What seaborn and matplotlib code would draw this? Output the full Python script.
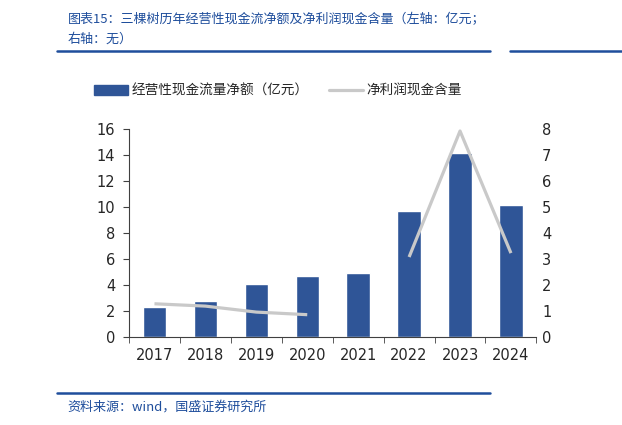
import numpy as np
import pandas as pd
import matplotlib
matplotlib.use("Agg")
import matplotlib.pyplot as plt
from matplotlib.lines import Line2D
from matplotlib.patches import Patch
import seaborn as sns

# podaci
years = ["2017", "2018", "2019", "2020", "2021", "2022", "2023", "2024"]
cash_flow = [2.31, 2.78, 4.09, 4.70, 4.94, 9.74, 14.17, 10.18]   # 亿元
cash_ratio = [1.28, 1.19, 0.96, 0.86, np.nan, 3.08, 7.93, 3.23]  # 无

bar_label = "经营性现金流量净额（亿元）"
line_label = "净利润现金含量"
title_line1 = "图表15：三棵树历年经营性现金流净额及净利润现金含量（左轴：亿元；"
title_line2 = "右轴：无）"
source_text = "资料来源：wind，国盛证券研究所"

sns.set_style("white")
plt.rcParams["font.family"] = ["Noto Sans CJK SC", "DejaVu Sans"]

BLUE = "#2f5597"
RULE = "#1f4e9c"
GRAY = "#c9c9c9"

df = pd.DataFrame({"year": years, "cash": cash_flow, "ratio": cash_ratio})

fig = plt.figure(figsize=(6.22, 4.25), dpi=100)
ax = fig.add_axes([0.2074, 0.207, 0.655, 0.489])

sns.barplot(data=df, x="year", y="cash", color=BLUE, width=0.46,
            saturation=1, ax=ax)
ax.set_xlim(-0.5, 7.5)
ax.set_ylim(0, 16)
ax.set_yticks(range(0, 17, 2))
ax.set_xlabel("")
ax.set_ylabel("")
for s in ["top", "right"]:
    ax.spines[s].set_visible(False)
ax.spines["left"].set_color("#404040")
ax.spines["bottom"].set_color("#404040")
ax.tick_params(axis="y", length=4, direction="out", color="#404040",
               labelsize=10.5, pad=6, left=True)
ax.tick_params(axis="x", which="major", length=0, labelsize=10.5, pad=8)
ax.set_xticks(np.arange(-0.5, 8.0, 1.0), minor=True)
ax.tick_params(axis="x", which="minor", length=4, color="#404040",
               direction="out", bottom=True)
for t in ax.get_xticklabels() + ax.get_yticklabels():
    t.set_family("DejaVu Sans")

ax2 = ax.twinx()
ax2.plot(np.arange(len(years)), cash_ratio, color=GRAY, lw=2.3,
         solid_capstyle="butt")
ax2.set_ylim(0, 8)
ax2.set_yticks(range(0, 9))
for s in ["top", "right", "left", "bottom"]:
    ax2.spines[s].set_visible(False)
ax2.tick_params(axis="y", length=0, labelsize=10.5, pad=4)
for t in ax2.get_yticklabels():
    t.set_family("DejaVu Sans")

handles = [Patch(facecolor=BLUE, edgecolor=BLUE),
           Line2D([0], [0], color=GRAY, lw=2.3)]
fig.legend(handles, [bar_label, line_label], loc="center",
           bbox_to_anchor=(0.447, 0.786), ncol=2, frameon=False,
           fontsize=9.8, handlelength=2.5, handleheight=0.8,
           handletextpad=0.25, columnspacing=1.5)

# naslov i izvor
fig.text(0.109, 0.955, title_line1, color=RULE, fontsize=9.4,
         style="italic", va="center", ha="left")
fig.text(0.109, 0.908, title_line2, color=RULE, fontsize=9.4,
         style="italic", va="center", ha="left")
fig.add_artist(Line2D([0.092, 0.788], [0.88, 0.88], color=RULE, lw=1.8))
fig.add_artist(Line2D([0.82, 1.0], [0.88, 0.88], color=RULE, lw=1.8))
fig.add_artist(Line2D([0.092, 0.788], [0.075, 0.075], color=RULE, lw=1.8))
fig.text(0.109, 0.043, source_text, color=RULE, fontsize=9.4,
         style="italic", va="center", ha="left")

fig.savefig("out.png", dpi=100)
